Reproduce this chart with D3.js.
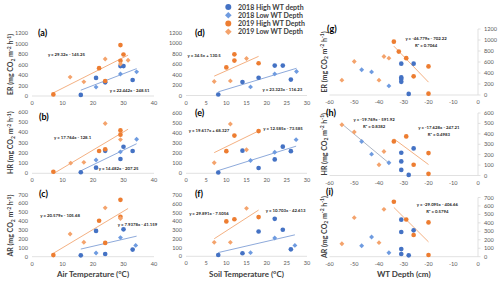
<!DOCTYPE html>
<html>
<head>
<meta charset="utf-8">
<script src="https://cdnjs.cloudflare.com/ajax/libs/d3/7.8.5/d3.min.js"></script>
<style>
  body { margin: 0; background: #fff; }
  svg { display: block; }
  text { font-family: Lato, "Liberation Sans", sans-serif; }
</style>
</head>
<body>
<div id="chart"></div>
<script>
// Legend series, index used in the point lists below
var seriesNames = ['2018 High WT depth', '2018 Low WT Depth', '2019 High WT Depth', '2019 Low WT Depth'];

// Tick values
var airTicks = [0, 10, 20, 30, 40];
var soilTicks = [0, 5, 10, 15, 20, 25, 30];
var wtTicks = [-60, -50, -40, -30, -20, -10, 0];
var erTicks = [0, 200, 400, 600, 800, 1000, 1200];
var hrTicks = [0, 100, 200, 300, 400, 500, 600];
var arTicks = [0, 100, 200, 300, 400, 500, 600, 700];

// Points as [series, x, y]
var erAir = [[0,16,20],[0,21,345],[0,24,260],[0,29,570],[0,30,570],[0,33,305],
  [1,21,170],[1,29,420],[1,34.3,460],
  [2,7,30],[2,22,530],[2,29,970],[2,30,790],[2,29,670],[2,24,285],
  [3,12.5,360],[3,17,270],[3,24,705],[3,29,610],[3,31.5,680]];
var hrAir = [[0,16,10],[0,21,55],[0,24,220],[0,29,140],[0,30,260],[0,33,218],
  [1,21,130],[1,29,210],[1,34.3,334],
  [2,7,15],[2,22,218],[2,29,420],[2,29,378],[2,24,235],
  [3,12.7,100],[3,17,107],[3,24,487],[3,29,330]];
var arAir = [[0,16,15],[0,21,290],[0,24,30],[0,30,308],[0,33,80],
  [1,21,42],[1,29,215],[1,34,127],
  [2,7,18],[2,22,405],[2,29,640],[2,29,450],[2,24,155],
  [3,12.5,255],[3,17,163],[3,24,550],[3,29,430]];
var erSoil = [[0,8,20],[0,14,260],[0,18,340],[0,22,575],[0,24,575],[0,26,305],
  [1,16,165],[1,22,415],[1,27.4,460],
  [2,10,540],[2,12,790],[2,12,670],[2,18,620],
  [3,7,270],[3,11,280],[3,15,710]];
var hrSoil = [[0,8,8],[0,14,225],[0,18,53],[0,22,138],[0,24,265],[0,26,220],
  [1,16,128],[1,22,210],[1,27.3,335],
  [2,10,220],[2,12,375],[2,18,420],
  [3,7,105],[3,11,490],[3,15,235]];
var arSoil = [[0,8,15],[0,14,35],[0,18,285],[0,22,430],[0,24,305],[0,26,80],
  [1,16,42],[1,22,210],[1,27,125],
  [2,10,400],[2,12,425],[2,18,450],
  [3,7,160],[3,11,160],[3,15,550]];
var erWT = [[0,-31,570],[0,-26,570],[0,-31,320],[0,-31,290],[0,-31,240],[0,-28,20],
  [1,-47,460],[1,-43,420],[1,-36,165],
  [2,-34,970],[2,-32,790],[2,-29,670],[2,-20,520],[2,-26,340],[2,-20,25],
  [3,-50,610],[3,-38,700],[3,-36,670],[3,-40,270],[3,-55,270]];
var hrWT = [[0,-31,218],[0,-31,135],[0,-31,54],[0,-26,260],[0,-28,6],
  [1,-47,327],[1,-43,205],[1,-36,122],
  [2,-34,327],[2,-29,375],[2,-26,103],[2,-20,215],[2,-20,16],
  [3,-55,487],[3,-50,417],[3,-38,230],[3,-40,103]];
var arWT = [[0,-31,438],[0,-31,292],[0,-26,312],[0,-31,90],[0,-31,32],[0,-28,16],
  [1,-43,233],[1,-47,130],[1,-36,47],
  [2,-34,650],[2,-29,440],[2,-20,405],[2,-26,257],[2,-20,20],
  [3,-38,560],[3,-50,462],[3,-55,154],[3,-40,166]];

// Trend lines: [panel, colour key, slope, intercept, x from, x to, equation, R2]
var trendLines = [
  ['a', 'orange', 29.32, -145.25, 7, 31.5, 'y = 29.32x - 145.25', ''],
  ['a', 'blue', 22.442, -248.51, 16, 34.3, 'y = 22.442x - 248.51', ''],
  ['b', 'orange', 17.764, -128.1, 7, 31.5, 'y = 17.764x - 128.1', ''],
  ['b', 'blue', 14.482, -207.25, 16, 34.3, 'y = 14.482x - 207.25', ''],
  ['c', 'orange', 20.579, -105.68, 7, 31.5, 'y = 20.579x - 105.68', ''],
  ['c', 'blue', 7.9378, -41.159, 16, 34.3, 'y = 7.9378x - 41.159', ''],
  ['d', 'orange', 34.5, 130.5, 7, 18, 'y = 34.5x + 130.5', ''],
  ['d', 'blue', 23.323, -116.23, 8, 27.4, 'y = 23.323x - 116.23', ''],
  ['e', 'orange', 19.617, 68.327, 7, 18, 'y = 19.617x + 68.327', ''],
  ['e', 'blue', 12.585, -73.585, 8, 27.3, 'y = 12.585x - 73.585', ''],
  ['f', 'orange', 29.891, -7.5056, 7, 18, 'y = 29.891x - 7.5056', ''],
  ['f', 'blue', 10.703, -42.613, 8, 27, 'y = 10.703x - 42.613', ''],
  ['g', 'orange', -46.779, -702.22, -34, -20, 'y = -46.779x - 702.22', 'R² = 0.7064'],
  ['h', 'grey', -19.769, -591.92, -55, -36, 'y = -19.769x - 591.92', 'R² = 0.8382'],
  ['h', 'orange', -17.628, -247.21, -34, -20, 'y = -17.628x - 247.21', 'R² = 0.4983'],
  ['i', 'orange', -29.095, -406.66, -34, -20, 'y = -29.095x - 406.66', 'R² = 0.5794']
];

// Where each equation label sits, in data units of its panel (same order as trendLines)
var eqAnchor = [[11.3,771],[32,67],[13.3,331],[28.4,37],[9.2,452],[34.6,351],
  [4.5,733],[23.9,86],[5.7,409],[24.05,429],[5.7,475],[24.7,509],
  [-21,1009],[-42,528],[-15.8,451],[-16.4,605]];

var markerColor = ['#4472C4', '#6E9BE0', '#ED7D31', '#F4A36C'];
var lineColor = {blue: '#8EAADB', orange: '#F4B183', grey: '#AEB6C4'};

// Layout per column and row (pixels)
var cols = [
  {x: [32, 154], domain: [0, 40], ticks: airTicks, title: 'Air Temperature (°C)'},
  {x: [186, 307], domain: [0, 30], ticks: soilTicks, title: 'Soil Temperature (°C)'},
  {x: [329.5, 478], domain: [-60, 0], ticks: wtTicks, title: 'WT Depth (cm)'}
];
var rows = [
  {name: 'ER', domain: [0, 1200], ticks: erTicks},
  {name: 'HR', domain: [0, 600], ticks: hrTicks},
  {name: 'AR', domain: [0, 700], ticks: arTicks}
];

var panels = [
  {id: 'a', col: 0, row: 0, pts: erAir, y: [96, 33], lab: [38, 36]},
  {id: 'b', col: 0, row: 1, pts: hrAir, y: [173.3, 112], lab: [39, 120]},
  {id: 'c', col: 0, row: 2, pts: arAir, y: [256.7, 194.5], lab: [39, 197]},
  {id: 'd', col: 1, row: 0, pts: erSoil, y: [95.5, 33], lab: [195, 36]},
  {id: 'e', col: 1, row: 1, pts: hrSoil, y: [173.3, 113], lab: [195, 116]},
  {id: 'f', col: 1, row: 2, pts: arSoil, y: [256.3, 195.3], lab: [195, 197]},
  {id: 'g', col: 2, row: 0, pts: erWT, y: [95, 29], lab: [327, 31.5]},
  {id: 'h', col: 2, row: 1, pts: hrWT, y: [175.5, 113], lab: [326, 116]},
  {id: 'i', col: 2, row: 2, pts: arWT, y: [256.7, 197.5], lab: [326, 195]}
];

var svg = d3.select('#chart')
  .append('svg')
  .attr('width', 500)
  .attr('height', 283);

// y title with subscript / superscripts
function unitTitle(t, name) {
  t.append('tspan').text(name + ' (mg CO');
  t.append('tspan').attr('dy', 1.5).style('font-size', '5px').text('2');
  t.append('tspan').attr('dy', -1.5).text(' m');
  t.append('tspan').attr('dy', -2.5).style('font-size', '5px').text('-2');
  t.append('tspan').attr('dy', 2.5).text(' h');
  t.append('tspan').attr('dy', -2.5).style('font-size', '5px').text('-1');
  t.append('tspan').attr('dy', 2.5).text(')');
}

var diamond = d3.symbol().type(d3.symbolSquare).size(12);

panels.forEach(function(p) {
  var c = cols[p.col], r = rows[p.row];
  var x = d3.scaleLinear().domain(c.domain).range(c.x);
  var y = d3.scaleLinear().domain(r.domain).range(p.y);
  var g = svg.append('g');

  // x axis line at y = 0
  g.append('line')
    .attr('x1', c.x[0]).attr('x2', c.x[1])
    .attr('y1', y(0)).attr('y2', y(0))
    .attr('stroke', '#d9d9d9').attr('stroke-width', 0.8);

  g.selectAll('.xt').data(c.ticks).enter().append('text')
    .attr('x', function(d) { return x(d); })
    .attr('y', y(0) + 9)
    .attr('text-anchor', 'middle')
    .style('font-size', '5.6px').attr('fill', '#595959')
    .text(function(d) { return d; });

  if (p.col < 2) {
    g.selectAll('.yt').data(r.ticks).enter().append('text')
      .attr('x', c.x[0] - 4)
      .attr('y', function(d) { return y(d) + 2; })
      .attr('text-anchor', 'end')
      .style('font-size', '5.6px').attr('fill', '#595959')
      .text(function(d) { return d; });
  } else {
    // value axis sits on the right, where x = 0
    g.append('line')
      .attr('x1', x(0)).attr('x2', x(0))
      .attr('y1', y(r.domain[1])).attr('y2', y(0))
      .attr('stroke', '#d9d9d9').attr('stroke-width', 0.8);
    g.selectAll('.ytk').data(r.ticks).enter().append('line')
      .attr('x1', x(0)).attr('x2', x(0) + 2.5)
      .attr('y1', function(d) { return y(d); })
      .attr('y2', function(d) { return y(d); })
      .attr('stroke', '#d9d9d9').attr('stroke-width', 0.8);
    g.selectAll('.yt').data(r.ticks).enter().append('text')
      .attr('x', x(0) + 6)
      .attr('y', function(d) { return y(d) + 2; })
      .attr('text-anchor', 'start')
      .style('font-size', '5.6px').attr('fill', '#595959')
      .text(function(d) { return d; });
  }

  // y titles on the first and last column
  if (p.col != 1) {
    var tx = p.col == 0 ? 13 : 326.5;
    var ty = (p.y[0] + p.y[1]) / 2;
    var t = g.append('text')
      .attr('transform', 'translate(' + tx + ',' + ty + ') rotate(-90)')
      .attr('text-anchor', 'middle')
      .style('font-size', '7px').style('font-weight', 'bold')
      .attr('fill', '#404040');
    unitTitle(t, r.name);
  }

  // x titles on the bottom row
  if (p.row == 2) {
    g.append('text')
      .attr('x', (c.x[0] + c.x[1]) / 2)
      .attr('y', 277)
      .attr('text-anchor', 'middle')
      .style('font-size', '8px').style('font-weight', 'bold')
      .attr('fill', '#404040')
      .text(c.title);
  }

  // trend lines
  trendLines.forEach(function(tl, i) {
    if (tl[0] != p.id) return;
    g.append('line')
      .attr('x1', x(tl[4])).attr('y1', y(tl[2] * tl[4] + tl[3]))
      .attr('x2', x(tl[5])).attr('y2', y(tl[2] * tl[5] + tl[3]))
      .attr('stroke', lineColor[tl[1]]).attr('stroke-width', 1);
    g.append('text')
      .attr('x', x(eqAnchor[i][0]))
      .attr('y', y(eqAnchor[i][1]))
      .attr('text-anchor', 'middle')
      .style('font-size', '4.3px').style('font-weight', 'bold')
      .attr('fill', '#262626')
      .text(tl[6]);
    if (tl[7]) {
      g.append('text')
        .attr('x', x(eqAnchor[i][0]))
        .attr('y', y(eqAnchor[i][1]) + 7)
        .attr('text-anchor', 'middle')
        .style('font-size', '4.3px').style('font-weight', 'bold')
        .attr('fill', '#262626')
        .text(tl[7]);
    }
  });

  // points: circles for high WT depth, diamonds for low
  g.selectAll('.pt').data(p.pts).enter().append('path')
    .attr('transform', function(d) {
      return 'translate(' + x(d[1]) + ',' + y(d[2]) + ')' + (d[0] % 2 ? ' rotate(45)' : '');
    })
    .attr('d', function(d) {
      return d[0] % 2 ? diamond() : d3.symbol().type(d3.symbolCircle).size(17)();
    })
    .attr('fill', function(d) { return markerColor[d[0]]; });

  // panel letter
  g.append('text')
    .attr('x', p.lab[0]).attr('y', p.lab[1])
    .style('font-size', '9px').style('font-weight', 'bold')
    .attr('fill', '#000')
    .text('(' + p.id + ')');
});

// Legend
var legend = svg.append('g');
seriesNames.forEach(function(s, i) {
  var ly = [7, 15.2, 23.5, 31.8][i];
  legend.append('path')
    .attr('transform', 'translate(228.3,' + ly + ')' + (i % 2 ? ' rotate(45)' : ''))
    .attr('d', i % 2 ? d3.symbol().type(d3.symbolSquare).size(22)() : d3.symbol().type(d3.symbolCircle).size(28)())
    .attr('fill', markerColor[i]);
  legend.append('text')
    .attr('x', 238).attr('y', ly + 2.5)
    .style('font-size', '7px').style('font-weight', 'bold')
    .attr('fill', '#404040')
    .text(s);
});
</script>
</body>
</html>
